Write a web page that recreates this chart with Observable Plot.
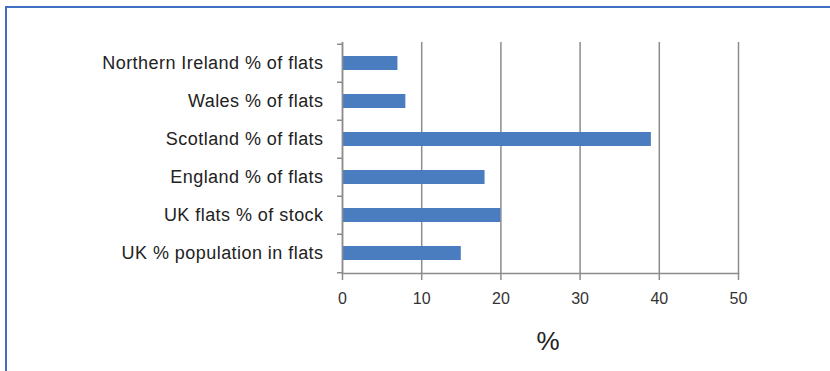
<!DOCTYPE html>
<html>
<head>
<meta charset="utf-8">
<script src="https://cdn.jsdelivr.net/npm/d3@7"></script>
<script src="https://cdn.jsdelivr.net/npm/@observablehq/plot@0.6"></script>
<style>
  html, body { margin: 0; padding: 0; background: #fff; overflow: hidden; }
  #wrap { position: relative; width: 830px; height: 371px; }
  #frame { position: absolute; left: 5px; top: 6px; width: 900px; height: 500px;
           border: 2px solid #3f70c2; box-sizing: border-box; pointer-events: none; }
  #xlabel { position: absolute; left: 0; top: 326px; width: 1096px; text-align: center;
            font-family: "Liberation Sans", Arial, sans-serif; font-size: 26px; color: #222; }
  #chart { position: absolute; left: 0; top: 0; }
</style>
</head>
<body>
<div id="wrap">
  <div id="chart"></div>
  <div id="xlabel">%</div>
  <div id="frame"></div>
</div>
<script>
const categories = [
  "Northern Ireland % of flats",
  "Wales % of flats",
  "Scotland % of flats",
  "England % of flats",
  "UK flats % of stock",
  "UK % population in flats"
];
const values = [7, 8, 39, 18, 20, 15];
const xTicks = [0, 10, 20, 30, 40, 50];

const data = categories.map((c, i) => ({category: c, value: values[i]}));

const W = 830, H = 371, mT = 42, mB = 98, mL = 342, mR = 92;
const halfBand = (H - mT - mB) / categories.length / 2;
const gridStroke = "#8c8c8c";

const plot = Plot.plot({
  width: W,
  height: H,
  marginTop: mT,
  marginBottom: mB,
  marginLeft: mL,
  marginRight: mR,
  style: {fontFamily: "'Liberation Sans', Arial, sans-serif", background: "transparent", color: "#222"},
  x: {domain: [0, 50], ticks: xTicks, label: null},
  y: {domain: categories, paddingInner: 0.64, paddingOuter: 0.32, label: null},
  marks: [
    Plot.gridX(xTicks, {stroke: gridStroke, strokeOpacity: 1, strokeWidth: 1.5}),
    Plot.barX(data, {x: "value", y: "category", fill: "#4a7dbf"}),
    Plot.ruleX([0], {stroke: gridStroke, strokeWidth: 1.5}),
    Plot.frame({anchor: "bottom", stroke: gridStroke, strokeWidth: 1.5}),
    Plot.ruleY(categories, {y: d => d, x1: 0, x2: 0, insetLeft: -5, dy: -halfBand, stroke: gridStroke, strokeWidth: 1.5}),
    Plot.ruleY([categories[categories.length - 1]], {y: d => d, x1: 0, x2: 0, insetLeft: -5, dy: halfBand, stroke: gridStroke, strokeWidth: 1.5}),
    Plot.axisX({ticks: xTicks, tickSize: 7, tickPadding: 12, fontSize: 16, stroke: gridStroke, strokeWidth: 1.5, fill: "#333", label: null}),
    Plot.axisY({tickSize: 0, tickPadding: 19, fontSize: 18, fill: "#222", label: null})
  ]
});
plot.querySelectorAll("[aria-label='y-axis tick label'] text").forEach(t => t.setAttribute("letter-spacing", "0.45"));
document.getElementById("chart").appendChild(plot);
</script>
</body>
</html>
